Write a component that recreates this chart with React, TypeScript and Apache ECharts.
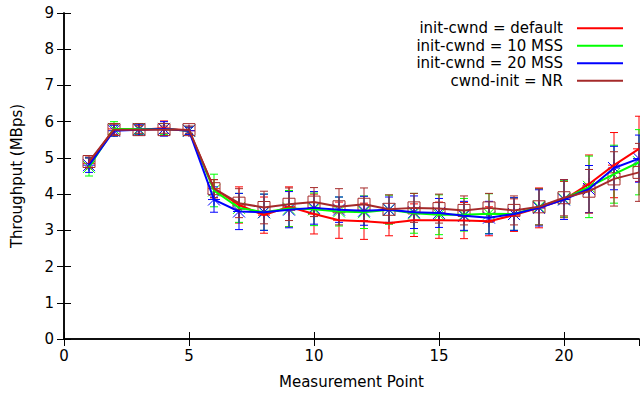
import React, { useEffect, useRef } from "react";
import * as echarts from "echarts";

const points = [1, 2, 3, 4, 5, 6, 7, 8, 9, 10, 11, 12, 13, 14, 15, 16, 17, 18, 19, 20, 21, 22, 23];

const seriesNames = ["init-cwnd = default", "init-cwnd = 10 MSS", "init-cwnd = 20 MSS", "cwnd-init = NR"];

const defaultValues = [4.85, 5.8, 5.78, 5.82, 5.75, 4.15, 3.7, 3.42, 3.65, 3.45, 3.28, 3.25, 3.2, 3.28, 3.28, 3.27, 3.25, 3.42, 3.62, 3.85, 4.28, 4.8, 5.25];
const mss10Values = [4.75, 5.8, 5.8, 5.8, 5.75, 4.1, 3.62, 3.5, 3.6, 3.58, 3.52, 3.5, 3.57, 3.47, 3.43, 3.43, 3.46, 3.45, 3.65, 3.87, 4.2, 4.55, 4.88];
const mss20Values = [4.8, 5.75, 5.78, 5.8, 5.75, 3.85, 3.52, 3.5, 3.57, 3.62, 3.57, 3.54, 3.57, 3.5, 3.48, 3.4, 3.35, 3.45, 3.62, 3.85, 4.14, 4.72, 4.98];
const nrValues = [4.9, 5.78, 5.78, 5.78, 5.78, 4.15, 3.75, 3.63, 3.72, 3.78, 3.65, 3.72, 3.58, 3.62, 3.6, 3.55, 3.62, 3.55, 3.65, 3.9, 4.08, 4.42, 4.6];

const defaultErrors = [0.15, 0.15, 0.12, 0.2, 0.1, 0.25, 0.5, 0.5, 0.55, 0.55, 0.5, 0.5, 0.35, 0.45, 0.5, 0.5, 0.4, 0.45, 0.55, 0.5, 0.8, 0.9, 0.9];
const mss10Errors = [0.25, 0.2, 0.15, 0.15, 0.1, 0.45, 0.4, 0.5, 0.5, 0.45, 0.4, 0.45, 0.4, 0.55, 0.55, 0.45, 0.55, 0.45, 0.5, 0.5, 0.85, 0.8, 0.9];
const mss20Errors = [0.2, 0.15, 0.15, 0.2, 0.1, 0.35, 0.5, 0.5, 0.5, 0.45, 0.35, 0.4, 0.35, 0.45, 0.4, 0.4, 0.45, 0.45, 0.5, 0.55, 0.65, 0.6, 0.65];
const nrErrors = [0.15, 0.15, 0.1, 0.1, 0.1, 0.25, 0.4, 0.45, 0.45, 0.4, 0.5, 0.45, 0.4, 0.4, 0.4, 0.4, 0.4, 0.4, 0.5, 0.5, 0.6, 0.75, 0.8];

const xTicks = [0, 5, 10, 15, 20];
const yTicks = [0, 1, 2, 3, 4, 5, 6, 7, 8, 9];

const colors = ["#ff0000", "#00ff00", "#0000ff", "#a52a2a"];
const markers = ["plus", "cross", "star", "square"];
const allValues = [defaultValues, mss10Values, mss20Values, nrValues];
const allErrors = [defaultErrors, mss10Errors, mss20Errors, nrErrors];

const FONT = "DejaVu Sans";
const FS = 15;

function markerChildren(kind: string, cx: number, cy: number, c: string) {
  const s = 6;
  const st = { stroke: c, lineWidth: 1, fill: "none" };
  const L = (x1: number, y1: number, x2: number, y2: number) => ({
    type: "line",
    shape: { x1, y1, x2, y2 },
    style: st,
  });
  const plus = [L(cx - s, cy, cx + s, cy), L(cx, cy - s, cx, cy + s)];
  const cross = [L(cx - s, cy - s, cx + s, cy + s), L(cx - s, cy + s, cx + s, cy - s)];
  if (kind === "plus") return plus;
  if (kind === "cross") return cross;
  if (kind === "star") return [...plus, ...cross];
  return [{ type: "rect", shape: { x: cx - s, y: cy - s, width: 2 * s, height: 2 * s }, style: st }];
}

export default function App() {
  const ref = useRef<HTMLDivElement>(null);
  useEffect(() => {
    const chart = echarts.init(ref.current!, null, { renderer: "svg" });
    const series: any[] = [];
    seriesNames.forEach((name, i) => {
      const c = colors[i];
      series.push({
        type: "line",
        name,
        data: points.map((x, j) => [x, allValues[i][j]]),
        showSymbol: false,
        symbol: "none",
        color: c,
        lineStyle: { color: c, width: 2 },
        z: 2,
        silent: true,
      });
      series.push({
        type: "custom",
        name,
        data: points.map((x, j) => [x, allValues[i][j], allErrors[i][j]]),
        encode: { x: 0, y: 1 },
        z: 2,
        silent: true,
        renderItem: (params: any, api: any) => {
          const x = api.value(0);
          const y = api.value(1);
          const e = api.value(2);
          const p = api.coord([x, y]);
          const hi = api.coord([x, y + e]);
          const lo = api.coord([x, y - e]);
          const cap = 4;
          const st = { stroke: c, lineWidth: 1 };
          return {
            type: "group",
            children: [
              { type: "line", shape: { x1: p[0], y1: hi[1], x2: p[0], y2: lo[1] }, style: st },
              { type: "line", shape: { x1: p[0] - cap, y1: hi[1], x2: p[0] + cap, y2: hi[1] }, style: st },
              { type: "line", shape: { x1: p[0] - cap, y1: lo[1], x2: p[0] + cap, y2: lo[1] }, style: st },
              ...markerChildren(markers[i], p[0], p[1], c),
            ],
          };
        },
      });
    });

    const legendGraphics: any[] = [];
    seriesNames.forEach((name, i) => {
      const y = 28.3 + 17.5 * i;
      legendGraphics.push({
        type: "text",
        x: 563,
        y,
        style: {
          text: name,
          fill: "#000",
          font: `${FS}px "${FONT}"`,
          align: "right",
          verticalAlign: "middle",
        },
        z: 10,
      });
      legendGraphics.push({
        type: "line",
        shape: { x1: 577, y1: y, x2: 623, y2: y },
        style: { stroke: colors[i], lineWidth: 2 },
        z: 10,
      });
    });

    const axisCommon = {
      type: "value",
      axisLine: { show: true, lineStyle: { color: "#000", width: 1.5 } },
      axisTick: { show: true, inside: true, length: 7, lineStyle: { color: "#000", width: 1 } },
      splitLine: { show: false },
    };

    chart.setOption({
      animation: false,
      backgroundColor: "#fff",
      grid: { left: 64, right: 1, top: 13, bottom: 53, containLabel: false },
      xAxis: [
        {
          ...axisCommon,
          position: "bottom",
          min: xTicks[0],
          max: 23,
          interval: 5,
          name: "Measurement Point",
          nameLocation: "middle",
          nameGap: 35,
          nameTextStyle: { fontFamily: FONT, fontSize: FS, color: "#000" },
          axisLabel: {
            fontFamily: FONT,
            fontSize: FS,
            color: "#000",
            margin: 9,
            showMaxLabel: false,
            formatter: (v: number) => (xTicks.includes(v) ? String(v) : ""),
          },
        },
        {
          ...axisCommon,
          position: "top",
          min: xTicks[0],
          max: 23,
          interval: 5,
          axisLabel: { show: false },
        },
      ],
      yAxis: [
        {
          ...axisCommon,
          position: "left",
          min: yTicks[0],
          max: yTicks[yTicks.length - 1],
          interval: 1,
          name: "Throughput (MBps)",
          nameLocation: "middle",
          nameGap: 40,
          nameTextStyle: { fontFamily: FONT, fontSize: FS, color: "#000" },
          axisLabel: { fontFamily: FONT, fontSize: FS, color: "#000", margin: 10 },
        },
        {
          ...axisCommon,
          position: "right",
          min: yTicks[0],
          max: yTicks[yTicks.length - 1],
          interval: 1,
          axisLabel: { show: false },
        },
      ],
      graphic: legendGraphics,
      series,
    });
    return () => chart.dispose();
  }, []);
  return <div ref={ref} style={{ position: "fixed", left: 0, top: 0, width: 640, height: 394 }} />;
}
